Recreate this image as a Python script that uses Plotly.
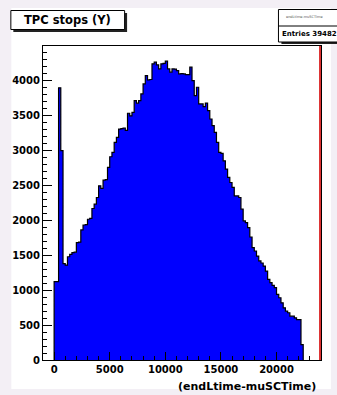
import plotly.graph_objects as go

# Histogram of (endLtime - muSCTime): 112 bins of width 200 starting at 0
bin_start = 0
bin_width = 200
counts = [
    1122, 1122, 3900, 3000, 1380, 1360, 1480, 1514, 1538, 1545,
    1682, 1690, 1864, 1935, 1940, 2017, 2030, 2171, 2233, 2329,
    2496, 2460, 2578, 2585, 2760, 2913, 2975, 3119, 3190, 3310,
    3315, 3325, 3290, 3536, 3500, 3550, 3717, 3680, 3717, 3813,
    3957, 4076, 4014, 4020, 4244, 4268, 4230, 4172, 4244, 4250,
    4283, 4172, 4125, 4172, 4170, 4148, 4100, 4105, 4100, 4090,
    4090, 4197, 4004, 3789, 3909, 3670, 3670, 3631, 3680, 3573,
    3454, 3358, 3263, 3119, 2975, 2960, 2855, 2736, 2616, 2544,
    2473, 2352, 2352, 2329, 2161, 1993, 1970, 1898, 1763, 1610,
    1562, 1490, 1420, 1390, 1346, 1274, 1155, 1108, 1070, 1036,
    940, 892, 820, 748, 700, 677, 628, 628, 605, 580,
    580, 221,
]

x_range = [-1000, 24000]
y_range = [0, 4500]
x_ticks = [0, 5000, 10000, 15000, 20000]
y_ticks = [0, 500, 1000, 1500, 2000, 2500, 3000, 3500, 4000]

title_text = "TPC stops (Y)"
axis_title = "(endLtime-muSCTime)"
stats_name = "endLtime-muSCTime"
stats_entries = "Entries 39482"

W, H = 337, 395
L, R, T, B = 40, 16, 46, 35
PW, PH = W - L - R, H - T - B


def px(x):
    return (x - L) / PW


def py(y):
    return (H - B - y) / PH


# step outline: start at baseline, one point per bin edge, back to baseline
edges = [bin_start + i * bin_width for i in range(len(counts) + 1)]
xs = [edges[0]] + edges[:-1] + [edges[-1]]
ys = [0] + counts + [0]

fig = go.Figure()
fig.add_trace(go.Scatter(
    x=xs, y=ys, mode="lines", line=dict(shape="hv", color="black", width=1.2),
    fill="tozeroy", fillcolor="#0000ff", hoverinfo="skip", showlegend=False,
))

tickfont = dict(family="DejaVu Sans", size=10, color="black", weight="bold")

fig.update_xaxes(
    range=x_range, tickvals=x_ticks, ticktext=[str(v) for v in x_ticks],
    ticks="inside", ticklen=8, tickwidth=1, tickcolor="black",
    minor=dict(dtick=1000, tick0=0, ticks="inside", ticklen=4, tickcolor="black"),
    showline=True, mirror=True, linecolor="black", linewidth=1,
    showgrid=False, zeroline=False, tickfont=tickfont,
)
fig.update_yaxes(
    range=y_range, tickvals=y_ticks, ticktext=[str(v) for v in y_ticks],
    ticks="inside", ticklen=9, tickwidth=1, tickcolor="black",
    minor=dict(dtick=100, tick0=0, ticks="inside", ticklen=4, tickcolor="black"),
    showline=True, mirror=True, linecolor="black", linewidth=1,
    showgrid=False, zeroline=False, tickfont=tickfont,
)

shapes = [
    # white canvas on the light page background
    dict(type="rect", xref="paper", yref="paper", x0=px(8), x1=px(331), y0=py(389), y1=py(8),
         fillcolor="white", line=dict(width=0), layer="below"),
    # title box shadow and box
    dict(type="rect", xref="paper", yref="paper", x0=px(10), x1=px(125), y0=py(32), y1=py(13),
         fillcolor="#222222", line=dict(width=0)),
    dict(type="rect", xref="paper", yref="paper", x0=px(7.5), x1=px(122.5), y0=py(29.5), y1=py(10.5),
         fillcolor="white", line=dict(color="black", width=1)),
    # statistics box shadow and box
    dict(type="rect", xref="paper", yref="paper", x0=px(281), x1=px(345), y0=py(44), y1=py(12),
         fillcolor="#222222", line=dict(width=0)),
    dict(type="rect", xref="paper", yref="paper", x0=px(278), x1=px(342), y0=py(42), y1=py(9.5),
         fillcolor="white", line=dict(color="black", width=1)),
    dict(type="line", xref="paper", yref="paper", x0=px(278), x1=px(342), y0=py(26), y1=py(26),
         line=dict(color="black", width=1)),
    # red marker along the right edge of the frame
    dict(type="line", xref="paper", yref="paper", x0=px(320), x1=px(320), y0=0, y1=1,
         line=dict(color="#d40000", width=1.6)),
]

annotations = [
    dict(text=f"<b>{title_text}</b>", xref="paper", yref="paper", x=px(65), y=py(20),
         xanchor="center", yanchor="middle", showarrow=False,
         font=dict(family="DejaVu Sans", size=11.5, color="black")),
    dict(text=f"<b>{axis_title}</b>", xref="paper", yref="paper", x=px(318), y=py(386),
         xanchor="right", yanchor="middle", showarrow=False,
         font=dict(family="DejaVu Sans", size=11, color="black")),
    dict(text=stats_name, xref="paper", yref="paper", x=px(284), y=py(17.5),
         xanchor="left", yanchor="middle", showarrow=False,
         font=dict(family="DejaVu Sans", size=3.5, color="#555555")),
    dict(text=f"<b>{stats_entries}</b>", xref="paper", yref="paper", x=px(280), y=py(34),
         xanchor="left", yanchor="middle", showarrow=False,
         font=dict(family="DejaVu Sans", size=7, color="black")),
]

fig.update_layout(
    width=W, height=H, margin=dict(l=L, r=R, t=T, b=B),
    paper_bgcolor="#f3eff5", plot_bgcolor="white",
    shapes=shapes, annotations=annotations, showlegend=False,
)

fig.write_html("out.html", config={"displayModeBar": False})
